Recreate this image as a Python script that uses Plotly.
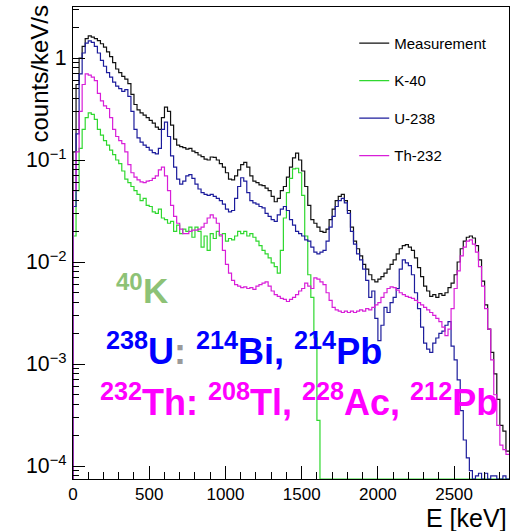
import numpy as np
import plotly.graph_objects as go

# ---------------- data (counts/keV/s per 20 keV bin, 0..2860 keV) ----------------
bin_width_keV = 20
n_bins = 143

measurement = [
    0.12, 0.55, 1.0, 1.3, 1.55, 1.65, 1.6, 1.55, 1.48, 1.38,
    1.28, 1.15, 1.03, 0.9, 0.78, 0.72, 0.66, 0.62, 0.56, 0.44,
    0.35, 0.31, 0.29, 0.275, 0.26, 0.245, 0.23, 0.21, 0.2, 0.26,
    0.33, 0.3, 0.22, 0.16, 0.14, 0.135, 0.132, 0.128, 0.13, 0.122,
    0.118, 0.112, 0.108, 0.102, 0.1, 0.107, 0.106, 0.1, 0.092, 0.085,
    0.075, 0.065, 0.064, 0.07, 0.08, 0.09, 0.095, 0.085, 0.07, 0.062,
    0.06, 0.057, 0.056, 0.053, 0.05, 0.044, 0.039, 0.042, 0.05, 0.055,
    0.068, 0.085, 0.105, 0.117, 0.1, 0.078, 0.055, 0.036, 0.026, 0.024,
    0.022, 0.02, 0.0195, 0.021, 0.026, 0.033, 0.04, 0.044, 0.046, 0.04,
    0.032, 0.022, 0.016, 0.0135, 0.0115, 0.0095, 0.0085, 0.0075, 0.0067, 0.0064,
    0.0068, 0.0072, 0.0078, 0.0085, 0.0095, 0.0105, 0.012, 0.0135, 0.0145, 0.0148,
    0.014, 0.013, 0.011, 0.0088, 0.0072, 0.0058, 0.0052, 0.0046, 0.0048, 0.0045,
    0.0049, 0.0047, 0.005, 0.0056, 0.0062, 0.0075, 0.01, 0.0135, 0.016, 0.0175,
    0.018, 0.0172, 0.0145, 0.0105, 0.0065, 0.0038, 0.0022, 0.0013, 0.0008, 0.00045,
    0.00025, 0.00022, 0.00014,
]

k40 = [
    0.018, 0.05, 0.13, 0.2, 0.26, 0.29, 0.28, 0.25, 0.2, 0.175,
    0.155, 0.14, 0.125, 0.113, 0.1, 0.092, 0.078, 0.065, 0.06, 0.055,
    0.05, 0.046, 0.04, 0.042, 0.036, 0.035, 0.031, 0.03, 0.033, 0.027,
    0.026, 0.024, 0.025, 0.02, 0.023, 0.019, 0.021, 0.02, 0.022, 0.0175,
    0.022, 0.02, 0.014, 0.018, 0.013, 0.019, 0.017, 0.02, 0.018, 0.019,
    0.016, 0.017, 0.0165, 0.018, 0.02, 0.019, 0.02, 0.018, 0.019, 0.0175,
    0.016, 0.0145, 0.013, 0.012, 0.011, 0.0098, 0.009, 0.0078, 0.013, 0.027,
    0.048, 0.066, 0.082, 0.083, 0.075, 0.045, 0.018, 0.0075, 0.0045, 0.0018,
    0.00028, 0, 0, 0, 0, 0, 0, 0, 0, 0,
    0, 0, 0, 0, 0, 0, 0, 0, 0, 0,
    0, 0, 0, 0, 0, 0, 0, 0, 0, 0,
    0, 0, 0, 0, 0, 0, 0, 0, 0, 0,
    0, 0, 0, 0, 0, 0, 0, 0, 0, 0,
    0, 0, 0, 0, 0, 0, 0, 0, 0, 0,
    0, 0, 0,
]

u238 = [
    0.035, 0.18, 0.7, 1.12, 1.4, 1.47, 1.42, 1.3, 1.12, 0.95,
    0.83, 0.72, 0.65, 0.58, 0.53, 0.5, 0.47, 0.49, 0.42, 0.3,
    0.2, 0.165, 0.15, 0.14, 0.133, 0.125, 0.118, 0.115, 0.13, 0.2,
    0.235, 0.17, 0.11, 0.085, 0.065, 0.058, 0.062, 0.07, 0.072, 0.066,
    0.058, 0.052, 0.048, 0.046, 0.045, 0.046, 0.044, 0.042, 0.04, 0.037,
    0.033, 0.031, 0.032, 0.042, 0.055, 0.067, 0.062, 0.048, 0.04, 0.038,
    0.037, 0.035, 0.034, 0.03, 0.028, 0.026, 0.025, 0.029, 0.033, 0.035,
    0.032, 0.026, 0.023, 0.02, 0.019, 0.018, 0.0165, 0.016, 0.014, 0.0125,
    0.012, 0.0125, 0.013, 0.016, 0.022, 0.028, 0.035, 0.04, 0.042, 0.038,
    0.03, 0.02, 0.015, 0.012, 0.0105, 0.0085, 0.0066, 0.0045, 0.0052, 0.0028,
    0.0017, 0.0024, 0.0036, 0.0032, 0.004, 0.0045, 0.0055, 0.0085, 0.0105, 0.0098,
    0.0092, 0.0075, 0.005, 0.0035, 0.0023, 0.0016, 0.0014, 0.0013, 0.0016, 0.0018,
    0.002, 0.0021, 0.0024, 0.0026, 0.0015, 0.0011, 0.0007, 0.00035, 0.00018, 0.00012,
    0.00009, 0, 0.00008, 0.000085, 0, 0.000085, 0, 0.00008, 0.00008, 0,
    0, 0.00008, 0,
]

th232 = [
    0.05, 0.12, 0.3, 0.55, 0.7, 0.68, 0.65, 0.6, 0.45, 0.38,
    0.34, 0.32, 0.26, 0.2, 0.17, 0.155, 0.145, 0.12, 0.09, 0.075,
    0.068, 0.064, 0.061, 0.06, 0.062, 0.063, 0.066, 0.07, 0.08, 0.085,
    0.07, 0.05, 0.036, 0.028, 0.024, 0.021, 0.019, 0.019, 0.02, 0.0205,
    0.0205, 0.021, 0.022, 0.024, 0.027, 0.029, 0.027, 0.024, 0.0185, 0.013,
    0.0095, 0.0078, 0.0066, 0.006, 0.0058, 0.0056, 0.0057, 0.0055, 0.0056, 0.0054,
    0.0058, 0.006, 0.0062, 0.0064, 0.0058, 0.0052, 0.0048, 0.0046, 0.0044, 0.0043,
    0.0041, 0.0043, 0.0045, 0.0048, 0.0052, 0.0055, 0.0062, 0.0058, 0.0055, 0.007,
    0.0068, 0.0064, 0.006, 0.005, 0.0042, 0.0036, 0.0034, 0.0033, 0.0032, 0.0033,
    0.0032, 0.0033, 0.0032, 0.0033, 0.0034, 0.0033, 0.0035, 0.0034, 0.0036, 0.0038,
    0.004, 0.0045, 0.005, 0.0055, 0.0057, 0.0056, 0.0053, 0.005, 0.0048, 0.0046,
    0.0045, 0.0044, 0.0042, 0.004, 0.0038, 0.0036, 0.0034, 0.0032, 0.003, 0.0028,
    0.0026, 0.0023, 0.0019, 0.0022, 0.0035, 0.0055, 0.0082, 0.0115, 0.014, 0.016,
    0.0165, 0.015, 0.0125, 0.009, 0.0058, 0.0035, 0.0022, 0.0011, 0.0005, 0.00025,
    0.00016, 0.000145, 0.00013,
]

series_names = ["Measurement", "K-40", "U-238", "Th-232"]
series_colors = ["#111111", "#2fd82f", "#1c1c9c", "#d81ed8"]

# ---------------- figure ----------------
W, H = 518, 531
L, R, T, B = 73, 9, 7, 52
y_log_range = [-4.127, 0.5]
y_floor = 10 ** y_log_range[0]

edges = np.arange(n_bins + 1) * bin_width_keV


def hist_xy(vals):
    v = np.array(vals, dtype=float)
    v = np.where(v <= 0, y_floor, v)      # empty bins drawn at axis minimum (ROOT style)
    x = np.concatenate([[edges[0]], edges])
    y = np.concatenate([[y_floor], v, [v[-1]]])
    return x, y


fig = go.Figure()
for name, vals, col in zip(series_names, [measurement, k40, u238, th232], series_colors):
    x, y = hist_xy(vals)
    fig.add_trace(go.Scatter(
        x=x, y=y, mode="lines", name=name, legendgroup=name,
        line=dict(color=col, width=1.2, shape="hv"),
    ))

font_family = "Liberation Sans, Arial, Helvetica, sans-serif"

fig.update_layout(
    width=W, height=H,
    margin=dict(l=L, r=R, t=T, b=B),
    paper_bgcolor="white", plot_bgcolor="white",
    font=dict(family=font_family, color="black"),
    showlegend=True,
    legend=dict(
        x=0.645, y=0.958, xanchor="left", yanchor="top",
        font=dict(size=15, family=font_family),
        bgcolor="rgba(0,0,0,0)", borderwidth=0,
        tracegroupgap=15, traceorder="grouped",
    ),
    xaxis=dict(
        range=[0, 2860], showgrid=False, zeroline=False,
        showline=True, linecolor="black", linewidth=1, mirror=True,
        ticks="inside", ticklen=13, tickcolor="black",
        tick0=0, dtick=500,
        minor=dict(ticks="inside", ticklen=7, dtick=100, tickcolor="black", showgrid=False),
        tickfont=dict(size=17, family=font_family),
    ),
    yaxis=dict(
        type="log", range=y_log_range, showgrid=False, zeroline=False,
        showline=True, linecolor="black", linewidth=1, mirror=True,
        ticks="inside", ticklen=12, tickcolor="black",
        dtick=1, exponentformat="power",
        minor=dict(ticks="inside", ticklen=6, dtick="D1", tickcolor="black", showgrid=False),
        tickfont=dict(size=17, family=font_family),
        ticklabelstandoff=2,
    ),
)


def px(xp):
    return (xp - L) / (W - L - R)


def py(yp):
    return (H - B - yp) / (H - T - B)


annotations = [
    dict(text="counts/keV/s", x=px(39), y=py(4), xanchor="center", yanchor="top",
         textangle=-90, font=dict(size=24, family=font_family)),
    dict(text="E [keV]", x=1.0, y=py(518), xanchor="right", yanchor="middle",
         font=dict(size=25, family=font_family)),
    # 40K label: mass number and symbol
    dict(text="<b>40</b>", x=px(114), y=py(281), xanchor="left", yanchor="middle",
         font=dict(size=24, family=font_family, color="#8dc276")),
    dict(text="<b>K</b>", x=px(141), y=py(290), xanchor="left", yanchor="middle",
         font=dict(size=35, family=font_family, color="#8dc276")),
    dict(text="<b><sup>238</sup>U<span style='color:#9a9a9a'>:</span> <sup>214</sup>Bi, <sup>214</sup>Pb</b>",
         x=px(104), y=py(349), xanchor="left", yanchor="middle",
         font=dict(size=36, family=font_family, color="#0000ff")),
    dict(text="<b><sup>232</sup>Th: <sup>208</sup>Tl, <sup>228</sup>Ac, <sup>212</sup>Pb</b>",
         x=px(98), y=py(400), xanchor="left", yanchor="middle",
         font=dict(size=36, family=font_family, color="#ff00ff")),
]
for a in annotations:
    fig.add_annotation(xref="paper", yref="paper", showarrow=False, **a)

fig.write_html("out.html")
